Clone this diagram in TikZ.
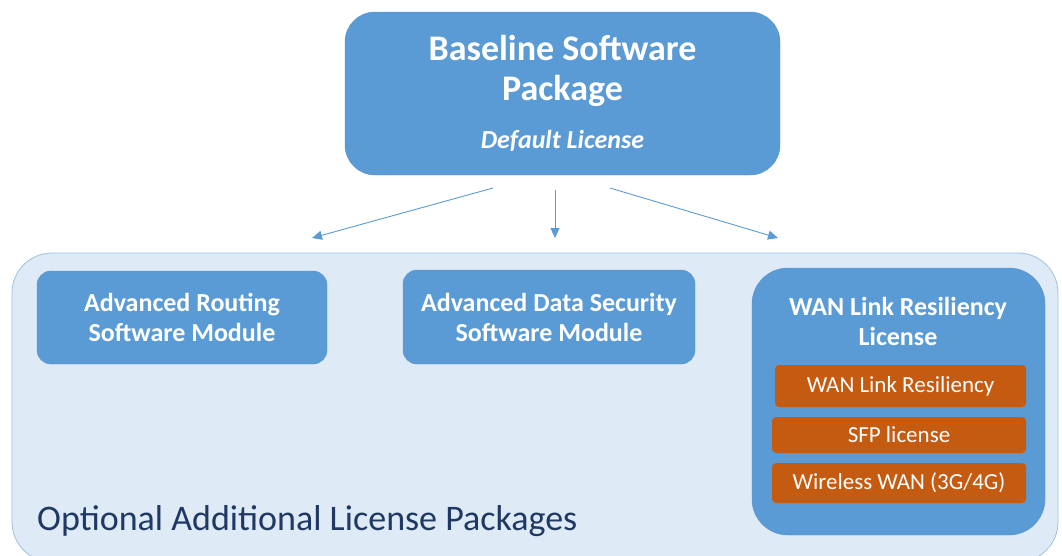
\documentclass[tikz,border=0pt]{standalone}
\usepackage{fontspec}
\setmainfont{Carlito}
\usetikzlibrary{arrows.meta}

\definecolor{boxblue}{HTML}{5B9BD5}
\definecolor{boxedge}{HTML}{5590CC}
\definecolor{panelfill}{HTML}{DEEBF7}
\definecolor{paneledge}{HTML}{9DC0E4}
\definecolor{licorange}{HTML}{C55A11}
\definecolor{navytext}{HTML}{1F3864}

\begin{document}
\begin{tikzpicture}[x=1pt, y=-1pt,
  bluebox/.style={draw=boxedge, fill=boxblue, text=white, align=center, inner sep=0pt,
    font=\bfseries\fontsize{26}{30}\selectfont},
  licbox/.style={fill=licorange, rounded corners=4pt, text=white, inner sep=0pt,
    font=\fontsize{23}{27}\selectfont},
  link/.style={draw=boxblue, line width=0.9pt, -{Triangle[length=10pt, width=9pt]}}]
\useasboundingbox (0, 0) rectangle (1062, 555);

% optional packages panel
\draw[paneledge, fill=panelfill, line width=0.8pt, rounded corners=40pt] (12, 253) rectangle (1058, 562);
\node[anchor=base west, text=navytext, font=\fontsize{36}{42}\selectfont, inner sep=0pt] (optional) at (37, 530) {Optional Additional License Packages};

% baseline package
\node[bluebox, rounded corners=30pt, minimum width=435, minimum height=163,
  font=\bfseries\fontsize{36}{40}\selectfont] (baseline) at (562.5, 93.5)
  {Baseline Software\\Package\\[8pt]{\fontsize{26}{30}\selectfont\itshape Default License}};

% modules
\node[bluebox, rounded corners=14pt, minimum width=290, minimum height=93] (routing) at (182, 317.5) {Advanced Routing\\Software Module};
\node[bluebox, rounded corners=14pt, minimum width=292, minimum height=94] (security) at (549, 317) {Advanced Data Security\\Software Module};

% wan link resiliency
\node[bluebox, rounded corners=36pt, minimum width=293, minimum height=267] (wan) at (898.5, 401.5) {};
\node[text=white, font=\bfseries\fontsize{26}{30}\selectfont, align=center, inner sep=0pt] (wantitle) at (898, 321)
  {WAN Link Resiliency\\License};
\node[licbox, minimum width=251, minimum height=42] (wanlink) at (900.5, 386) {WAN Link Resiliency};
\node[licbox, minimum width=254, minimum height=36] (sfp) at (899, 435) {SFP license};
\node[licbox, minimum width=254, minimum height=40] (wireless) at (899, 483) {Wireless WAN (3G/4G)};

% arrows
\coordinate (fromleft) at (493, 188);
\coordinate (frommid) at (555, 190);
\coordinate (fromright) at (610, 188);
\coordinate (toleft) at (312, 238);
\coordinate (tomid) at (555, 238);
\coordinate (toright) at (778, 238);
\draw[link] (fromleft) -- (toleft);
\draw[link] (frommid) -- (tomid);
\draw[link] (fromright) -- (toright);
\end{tikzpicture}
\end{document}
